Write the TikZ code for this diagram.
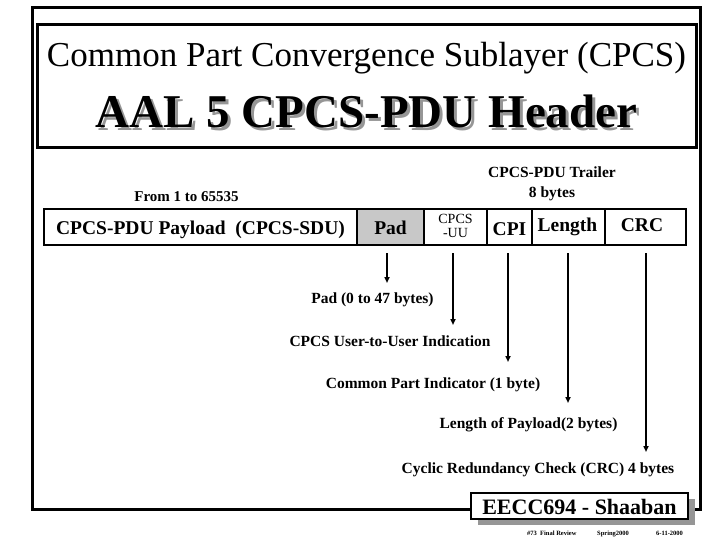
\documentclass[tikz,border=0pt]{standalone}
\usepackage{fontspec}
\setmainfont{Liberation Serif}
\usetikzlibrary{arrows.meta,calc}
\definecolor{padgray}{RGB}{200,200,200}
\definecolor{shadowgray}{RGB}{150,150,150}
\tikzset{
  frame/.style={draw=black,line width=3pt},
  cell/.style={draw=black,line width=1.8pt,minimum height=36pt,inner sep=0pt,anchor=center},
  celltxt/.style={font=\fontsize{19.5}{20}\selectfont\bfseries,anchor=base,inner sep=0pt},
  lbl/.style={font=\fontsize{15.5}{16}\selectfont\bfseries,anchor=base,inner sep=0pt},
  ptr/.style={line width=1.8pt,-{Triangle[length=6pt,width=5pt]}},
}
\begin{document}
\begin{tikzpicture}[x=1pt,y=-1pt]
\useasboundingbox (0,0) rectangle (720,540);
\fill[white] (0,0) rectangle (720,540);
% outer frame
\draw[frame] (32,8) rectangle (700,509);
% title box
\draw[frame] (37,25) rectangle (696,148);
\node[anchor=base,inner sep=0pt,font=\fontsize{35}{36}\selectfont] (t1) at (366.5,67) {Common Part Convergence Sublayer (CPCS)};
\node[anchor=base,inner sep=0pt,text=shadowgray,font=\fontsize{47}{48}\selectfont\bfseries] at (369.5,131) {AAL 5 CPCS-PDU Header};
\node[anchor=base,inner sep=0pt,font=\fontsize{47}{48}\selectfont\bfseries] (t2) at (366.5,128) {AAL 5 CPCS-PDU Header};
% upper labels
\node[lbl,font=\fontsize{15}{16}\selectfont\bfseries] (from) at (186.5,202) {From 1 to 65535};
\node[lbl] (trl1) at (552,178) {CPCS-PDU Trailer};
\node[lbl] (trl2) at (552,197) {8 bytes};
% cells
\node[cell,minimum width=313pt] (payload) at (200.5,227) {};
\node[cell,minimum width=67pt,fill=padgray] (pad) at (390.5,227) {};
\node[cell,minimum width=63pt] (uu) at (455.5,227) {};
\node[cell,minimum width=45pt] (cpi) at (509.5,227) {};
\node[cell,minimum width=73pt] (len) at (568.5,227) {};
\node[cell,minimum width=81pt] (crc) at (645.5,227) {};
\node[celltxt] at (200.5,235) {CPCS-PDU Payload\ \ (CPCS-SDU)};
\node[celltxt] at (390.5,235) {Pad};
\node[anchor=base,inner sep=0pt,font=\fontsize{14}{15}\selectfont] at (455.5,224) {CPCS};
\node[anchor=base,inner sep=0pt,font=\fontsize{14}{15}\selectfont] at (455.5,237) {-UU};
\node[celltxt] at (509.5,236) {CPI};
\node[celltxt] at (567.5,232) {Length};
\node[celltxt] at (642,232) {CRC};
% arrow ends
\coordinate (padE) at (387,283);
\coordinate (uuE) at (453,325);
\coordinate (cpiE) at (508,362);
\coordinate (lenE) at (568,403);
\coordinate (crcE) at (646,452);
\draw[ptr] (padE |- 0,253) -- (padE);
\draw[ptr] (uuE |- 0,253) -- (uuE);
\draw[ptr] (cpiE |- 0,253) -- (cpiE);
\draw[ptr] (lenE |- 0,253) -- (lenE);
\draw[ptr] (crcE |- 0,253) -- (crcE);
% lower labels
\node[lbl] (padL) at (372.5,303) {Pad (0 to 47 bytes)};
\node[lbl] (uuL) at (390,346) {CPCS User-to-User Indication};
\node[lbl] (cpiL) at (433,388) {Common Part Indicator (1 byte)};
\node[lbl] (lenL) at (528.5,428) {Length of Payload(2 bytes)};
\node[lbl] (crcL) at (538,473) {Cyclic Redundancy Check (CRC) 4 bytes};
% footer box
\fill[shadowgray] (478,499) rectangle (695,525);
\draw[fill=white,line width=1.5pt] (471,493) rectangle (688,519);
\node[anchor=base,inner sep=0pt,font=\fontsize{22}{23}\selectfont\bfseries] (ee) at (579.5,514) {EECC694 - Shaaban};
\node[anchor=base west,inner sep=0pt,font=\fontsize{6.5}{7}\selectfont\bfseries] at (527,535) {\#73\ \ Final Review};
\node[anchor=base west,inner sep=0pt,font=\fontsize{6.5}{7}\selectfont\bfseries] at (597,535) {Spring2000};
\node[anchor=base west,inner sep=0pt,font=\fontsize{6.5}{7}\selectfont\bfseries] at (656,535) {6-11-2000};
\end{tikzpicture}
\end{document}
